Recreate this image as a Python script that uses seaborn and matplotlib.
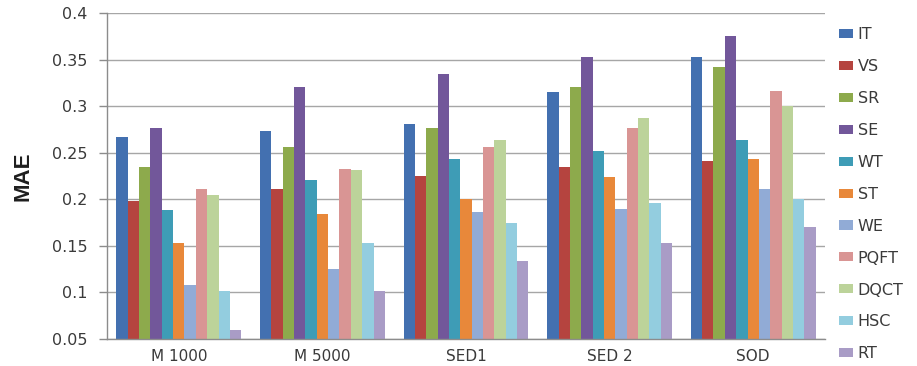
import matplotlib
matplotlib.use("Agg")
import matplotlib.pyplot as plt
import seaborn as sns
import pandas as pd

datasets = ["M 1000", "M 5000", "SED1", "SED 2", "SOD"]
methods = ["IT", "VS", "SR", "SE", "WT", "ST", "WE", "PQFT", "DQCT", "HSC", "RT"]

IT   = [0.267, 0.273, 0.281, 0.315, 0.353]
VS   = [0.198, 0.211, 0.225, 0.235, 0.241]
SR   = [0.235, 0.256, 0.277, 0.321, 0.342]
SE   = [0.277, 0.321, 0.335, 0.353, 0.375]
WT   = [0.188, 0.221, 0.243, 0.252, 0.264]
ST   = [0.153, 0.184, 0.200, 0.224, 0.243]
WE   = [0.108, 0.125, 0.186, 0.190, 0.211]
PQFT = [0.211, 0.233, 0.256, 0.277, 0.316]
DQCT = [0.205, 0.231, 0.264, 0.287, 0.300]
HSC  = [0.101, 0.153, 0.174, 0.196, 0.200]
RT   = [0.060, 0.101, 0.134, 0.153, 0.170]

series = [IT, VS, SR, SE, WT, ST, WE, PQFT, DQCT, HSC, RT]
colors = ["#4370B0", "#B5443F", "#8DAA4C", "#72579A", "#3E9CB6", "#E8883A",
          "#91ABD6", "#D99594", "#BCD39A", "#93CDDF", "#A99CC6"]

rows = []
for m, vals in zip(methods, series):
    for d, v in zip(datasets, vals):
        rows.append({"Dataset": d, "Method": m, "MAE": v})
df = pd.DataFrame(rows)

sns.set_theme(style="white")
plt.rcParams["font.family"] = ["DejaVu Sans"]

fig = plt.figure(figsize=(9.17, 3.66), dpi=100)
ax = fig.add_axes([0.1167, 0.0738, 0.7830, 0.8907])

sns.barplot(data=df, x="Dataset", y="MAE", hue="Method", order=datasets,
            hue_order=methods, palette=colors, width=0.87, gap=0,
            saturation=1, linewidth=0, ax=ax, legend=True)

ax.set_ylim(0.05, 0.4)
ax.set_yticks([0.05, 0.1, 0.15, 0.2, 0.25, 0.3, 0.35, 0.4])
ax.set_yticklabels(["0.05", "0.1", "0.15", "0.2", "0.25", "0.3", "0.35", "0.4"])
ax.yaxis.grid(True, color="#A6A6A6", linewidth=1.0)
ax.set_axisbelow(True)
ax.set_xlim(-0.5, 4.5)

for side in ["top", "right"]:
    ax.spines[side].set_visible(False)
for side in ["left", "bottom"]:
    ax.spines[side].set_color("#8C8C8C")
    ax.spines[side].set_linewidth(1.0)

ax.tick_params(axis="y", which="major", left=True, length=6, width=1,
               color="#8C8C8C", labelsize=11.5, labelcolor="#3A3A3A", pad=8)
ax.tick_params(axis="x", which="major", bottom=False, labelsize=11,
               labelcolor="#3A3A3A", pad=1.5)

ax.set_xlabel("")
ax.set_ylabel("MAE", fontsize=16, fontweight="bold", color="#1E1E1E",
              family=["DejaVu Sans Condensed", "Liberation Sans Narrow",
                      "Liberation Sans", "DejaVu Sans"],
              labelpad=13)

handles, labels = ax.get_legend_handles_labels()
ax.get_legend().remove()
leg = fig.legend(handles, labels, loc="upper left",
                 bbox_to_anchor=(0.915, 0.926), frameon=False,
                 fontsize=11.5, handlelength=0.87, handleheight=0.5,
                 handletextpad=0.3, labelspacing=1.06, borderaxespad=0,
                 borderpad=0)
for t in leg.get_texts():
    t.set_color("#3A3A3A")

fig.savefig("out.png", dpi=100)
